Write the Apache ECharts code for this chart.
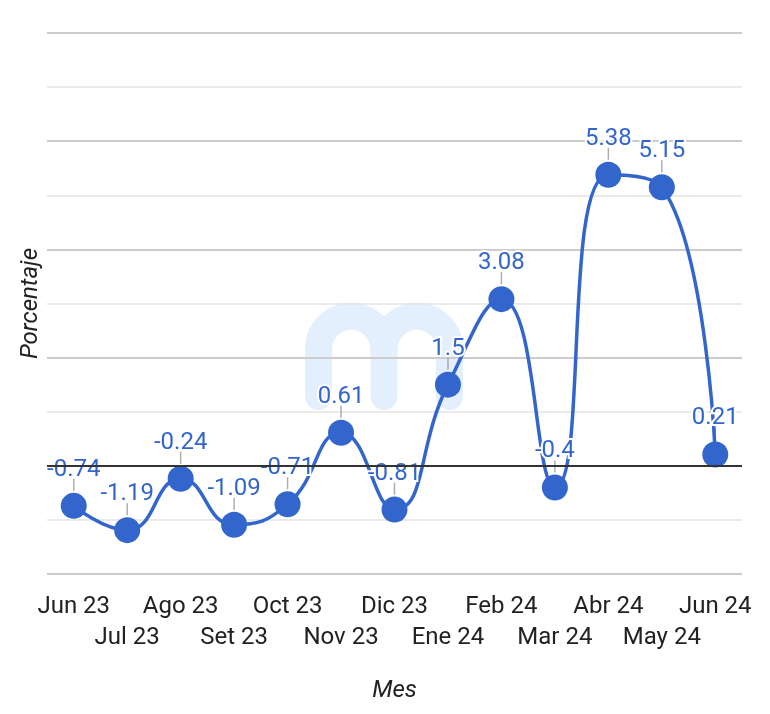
<!DOCTYPE html>
<html>
<head>
<meta charset="utf-8">
<script src="https://cdn.jsdelivr.net/npm/echarts@6/dist/echarts.min.js"></script>
<style>
  html, body { margin: 0; padding: 0; background: #fff; }
  #chart { width: 770px; height: 714px; }
</style>
</head>
<body>
<div id="chart"></div>
<script>
const months = ['Jun 23', 'Jul 23', 'Ago 23', 'Set 23', 'Oct 23', 'Nov 23', 'Dic 23',
  'Ene 24', 'Feb 24', 'Mar 24', 'Abr 24', 'May 24', 'Jun 24']
const values = [-0.74, -1.19, -0.24, -1.09, -0.71, 0.61, -0.81, 1.5, 3.08, -0.4, 5.38, 5.15, 0.21]

const blue = '#3366cc'
const font = 'Roboto, "Noto Sans", sans-serif'

const chart = echarts.init(document.getElementById('chart'))

// marca de agua "m"
const wmStyle = { fill: null, stroke: '#e3effc', lineWidth: 27, lineCap: 'round' }
const wm = [
  { type: 'arc', shape: { cx: 351.25, cy: 349, r: 32.75, startAngle: Math.PI, endAngle: 2 * Math.PI } },
  { type: 'arc', shape: { cx: 416.75, cy: 349, r: 32.75, startAngle: Math.PI, endAngle: 2 * Math.PI } },
  { type: 'line', shape: { x1: 318.5, y1: 349, x2: 318.5, y2: 396.5 } },
  { type: 'line', shape: { x1: 384, y1: 349, x2: 384, y2: 396.5 } },
  { type: 'line', shape: { x1: 449.5, y1: 349, x2: 449.5, y2: 396.5 } }
].map(e => Object.assign(e, { silent: true, z: -1, style: wmStyle }))

chart.setOption({
  animation: false,
  grid: { left: 47, right: 28, top: 33, bottom: 140 },
  graphic: wm,
  xAxis: {
    type: 'category',
    data: months,
    boundaryGap: true,
    name: 'Mes',
    nameLocation: 'middle',
    nameGap: 105,
    nameTextStyle: { fontFamily: font, fontSize: 24, fontStyle: 'italic', color: '#222' },
    axisLine: { show: false },
    axisTick: { show: false },
    axisLabel: {
      interval: 0,
      margin: 17,
      fontFamily: font,
      fontSize: 24,
      lineHeight: 31,
      color: '#222',
      formatter: (v, i) => (i % 2 ? '\n' + v : v)
    }
  },
  yAxis: {
    type: 'value',
    min: -2,
    max: 8,
    interval: 2,
    name: 'Porcentaje',
    nameLocation: 'middle',
    nameGap: 4,
    nameTextStyle: { fontFamily: font, fontSize: 24, fontStyle: 'italic', color: '#222' },
    axisLine: { show: false },
    axisTick: { show: false },
    axisLabel: { show: false },
    minorTick: { show: false, splitNumber: 2 },
    splitLine: { lineStyle: { color: '#cccccc', width: 2 } },
    minorSplitLine: { show: true, lineStyle: { color: '#e4e4e4', width: 1.5 } }
  },
  series: [
    {
      // guías de las etiquetas + línea del cero
      type: 'scatter',
      data: values,
      z: 1,
      silent: true,
      symbol: 'rect',
      symbolSize: [1.5, 12],
      symbolOffset: [0, -21],
      itemStyle: { color: '#999' },
      markLine: {
        silent: true,
        symbol: 'none',
        label: { show: false },
        lineStyle: { color: '#333', width: 2, type: 'solid' },
        data: [{ yAxis: 0 }]
      }
    },
    {
      type: 'line',
      data: values,
      z: 3,
      smooth: 0.5,
      symbol: 'circle',
      symbolSize: 26,
      lineStyle: { color: blue, width: 3.5 },
      itemStyle: { color: blue },
      label: {
        show: true,
        position: 'top',
        distance: 11,
        fontFamily: font,
        fontSize: 24,
        lineHeight: 24,
        color: blue,
        textBorderColor: '#fff',
        textBorderWidth: 4
      }
    }
  ]
})
</script>
</body>
</html>
